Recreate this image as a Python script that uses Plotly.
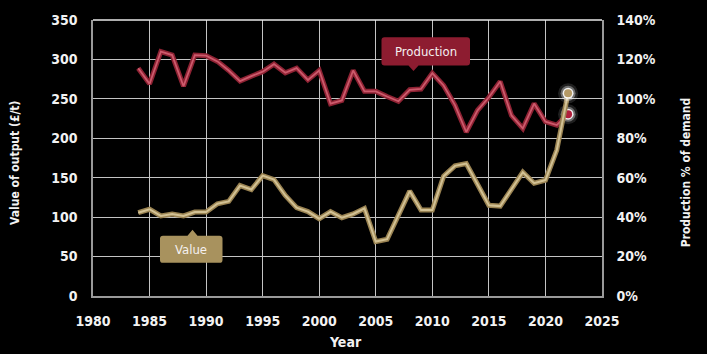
import plotly.graph_objects as go

# ---------------- data ----------------
years = list(range(1984, 2023))
value_gbp_per_t = [105.6, 110, 101.5, 104, 101.5, 106.5, 106.5, 117, 120, 140,
                   135, 152.6, 147.6, 127.5, 112, 107, 98, 107, 99.3, 104,
                   111, 69, 72, 102, 133, 109, 109, 152, 165, 168,
                   141, 115, 114, 135, 157, 143, 147, 185, 257]
production_pct = [115.5, 107.6, 124, 122.2, 106.4, 122.2, 121.9, 119.0, 114.4, 109.0,
                  111.5, 113.8, 117.6, 113.2, 115.6, 109.6, 114.4, 97.6, 99.2, 114.4,
                  103.8, 103.8, 101.2, 98.8, 104.6, 105.0, 113.0, 106.8, 96.8, 83.2,
                  94.2, 100.8, 108.8, 91.6, 85, 97.6, 88.4, 86.7, 92.2]
x_ticks = list(range(1980, 2026, 5))
left_ticks = list(range(0, 351, 50))
right_ticks = list(range(0, 141, 20))

# ---------------- layout constants ----------------
W, H = 707, 354
ML, MR, MT, MB = 93, 105, 17, 58
PW, PH = W - ML - MR, H - MT - MB
FONT = "DejaVu Sans Condensed"

RED_OUT, RED_IN = "#8e2233", "#cc5a6c"
TAN_OUT, TAN_IN = "#9a8352", "#d2c194"
RED_BOX, TAN_BOX = "#8d1c30", "#a8925e"


def px(x):
    return (x - ML) / PW


def py(y):
    return (H - MB - y) / PH


def callout(x0, y0, x1, y1, tipx, tipy, r=3, hw=5):
    """Rounded box with a small pointer (pixel coords -> paper path)."""
    pts = []
    down = tipy > y1
    def P(cmd, x, y):
        pts.append(f"{cmd}{px(x):.5f},{py(y):.5f}")
    P("M", x0 + r, y0)
    if not down:
        P("L", tipx - hw, y0)
        P("L", tipx, tipy)
        P("L", tipx + hw, y0)
    P("L", x1 - r, y0)
    pts.append(f"Q{px(x1):.5f},{py(y0):.5f} {px(x1):.5f},{py(y0 + r):.5f}")
    P("L", x1, y1 - r)
    pts.append(f"Q{px(x1):.5f},{py(y1):.5f} {px(x1 - r):.5f},{py(y1):.5f}")
    if down:
        P("L", tipx + hw, y1)
        P("L", tipx, tipy)
        P("L", tipx - hw, y1)
    P("L", x0 + r, y1)
    pts.append(f"Q{px(x0):.5f},{py(y1):.5f} {px(x0):.5f},{py(y1 - r):.5f}")
    P("L", x0, y0 + r)
    pts.append(f"Q{px(x0):.5f},{py(y0):.5f} {px(x0 + r):.5f},{py(y0):.5f}")
    return " ".join(pts) + " Z"


fig = go.Figure()

# production (base y axis, right side)
fig.add_trace(go.Scatter(x=years, y=production_pct, mode="lines", yaxis="y",
                         line=dict(color=RED_OUT, width=5), hoverinfo="skip"))
fig.add_trace(go.Scatter(x=years, y=production_pct, mode="lines", yaxis="y",
                         line=dict(color=RED_IN, width=1.8), hoverinfo="skip"))
for s, c in [(20, "rgba(255,255,255,0.12)"), (15, "rgba(255,255,255,0.35)"),
             (11, "rgba(255,255,255,0.9)"), (8, "#b01f3c")]:
    fig.add_trace(go.Scatter(x=years[-1:], y=production_pct[-1:], mode="markers", yaxis="y",
                             marker=dict(size=s, color=c, line=dict(width=0)),
                             hoverinfo="skip"))

# value (overlaying y2 axis, left side)
fig.add_trace(go.Scatter(x=years, y=value_gbp_per_t, mode="lines", yaxis="y2",
                         line=dict(color=TAN_OUT, width=5), hoverinfo="skip"))
fig.add_trace(go.Scatter(x=years, y=value_gbp_per_t, mode="lines", yaxis="y2",
                         line=dict(color=TAN_IN, width=2), hoverinfo="skip"))
for s, c in [(20, "rgba(255,255,255,0.12)"), (15, "rgba(255,255,255,0.35)"),
             (11, "rgba(255,255,255,0.9)"), (8, "#b59a66")]:
    fig.add_trace(go.Scatter(x=years[-1:], y=value_gbp_per_t[-1:], mode="markers", yaxis="y2",
                             marker=dict(size=s, color=c, line=dict(width=0)),
                             hoverinfo="skip"))

tickfont = dict(family=FONT, size=14, color="#f2f2f2", weight="bold")

fig.update_layout(
    width=W, height=H,
    margin=dict(l=ML, r=MR, t=MT, b=MB, pad=0),
    paper_bgcolor="black", plot_bgcolor="black",
    showlegend=False,
    xaxis=dict(range=[1980, 2025], tickvals=x_ticks, ticktext=[str(v) for v in x_ticks],
               showgrid=True, gridcolor="#c4c4c4", gridwidth=1,
               showline=True, linecolor="#9a9a9a", linewidth=1.5,
               zeroline=False, ticks="", tickfont=tickfont, ticklabelstandoff=11),
    yaxis=dict(side="right", range=[0, 140], tickvals=right_ticks,
               ticktext=[f"{v}%" for v in right_ticks],
               showgrid=True, gridcolor="#c4c4c4", gridwidth=1,
               showline=True, linecolor="#9a9a9a", linewidth=1.5,
               zeroline=False, ticks="", tickfont=tickfont, ticklabelstandoff=10),
    yaxis2=dict(side="left", overlaying="y", range=[0, 350], tickvals=left_ticks,
                ticktext=[str(v) for v in left_ticks],
                showgrid=False, showline=True, linecolor="#9a9a9a", linewidth=1.5,
                zeroline=False, ticks="", tickfont=tickfont, ticklabelstandoff=11),
)

# top border (white)
fig.add_shape(type="line", xref="paper", yref="paper", x0=0, x1=1, y0=1, y1=1,
              line=dict(color="#e8e8e8", width=1.5))

# callouts
fig.add_shape(type="path", xref="paper", yref="paper",
              path=callout(381.5, 34.5, 470, 63, 413.5, 68.5),
              fillcolor=RED_BOX, line=dict(width=0), layer="above")
fig.add_shape(type="path", xref="paper", yref="paper",
              path=callout(160, 235, 222.5, 262.5, 192.5, 229),
              fillcolor=TAN_BOX, line=dict(width=0), layer="above")

ann_font = dict(family=FONT, size=13, color="#f4f0f0")
fig.add_annotation(x=px(425.7), y=py(49), xref="paper", yref="paper", text="Production",
                   showarrow=False, font=ann_font, xanchor="center", yanchor="middle")
fig.add_annotation(x=px(191.3), y=py(249), xref="paper", yref="paper", text="Value",
                   showarrow=False, font=ann_font, xanchor="center", yanchor="middle")

# axis titles
title_font = dict(family=FONT, size=12, color="#f2f2f2", weight="bold")
fig.add_annotation(x=px(15.5), y=py(162), xref="paper", yref="paper",
                   text="Value of output (£/t)", textangle=-90, showarrow=False,
                   font=title_font, xanchor="center", yanchor="middle")
fig.add_annotation(x=px(686), y=py(171), xref="paper", yref="paper",
                   text="Production % of demand", textangle=-90, showarrow=False,
                   font=title_font, xanchor="center", yanchor="middle")
fig.add_annotation(x=px(345), y=py(343), xref="paper", yref="paper",
                   text="Year", showarrow=False,
                   font=dict(family=FONT, size=14, color="#f2f2f2", weight="bold"),
                   xanchor="center", yanchor="middle")

fig.write_html("out.html")
